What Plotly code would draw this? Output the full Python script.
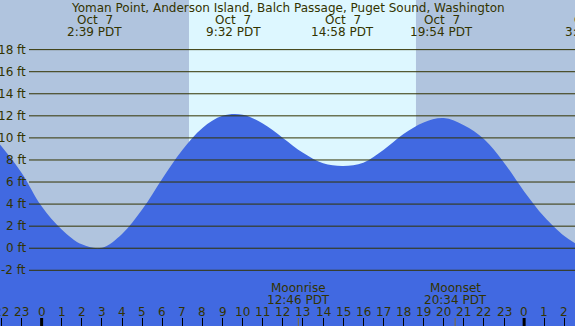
import plotly.graph_objects as go

# ---- data ----
TIDE_HOURS = [-2.07, -1, 0, 1, 2, 3, 4, 5, 6, 7, 8, 9, 10, 11, 12, 13, 14,
              15, 16, 17, 18, 19, 20, 21, 22, 23, 24, 25, 26, 26.53]
TIDE_FEET = [9.4, 6.85, 3.8, 1.7, 0.35, 0.05, 1.3, 3.5, 6.3, 8.9, 10.9, 12.0, 12.1,
             11.3, 10.0, 8.65, 7.7, 7.45, 7.75, 8.9, 10.35, 11.4, 11.8, 11.15, 9.9, 7.75,
             5.15, 2.85, 1.1, 0.45]

EXTREME_HOURS = [2.65, 9.533, 14.967, 19.9, 27.4]
EXTREME_DATES = ["Oct\u00a0\u00a07", "Oct\u00a0\u00a07", "Oct\u00a0\u00a07", "Oct\u00a0\u00a07", "Oct\u00a0\u00a08"]
EXTREME_TIMES = ["2:39 PDT", "9:32 PDT", "14:58 PDT", "19:54 PDT", "3:24 PDT"]

MOON_HOURS = [12.767, 20.567]
MOON_EVENTS = ["Moonrise", "Moonset"]
MOON_TIMES = ["12:46 PDT", "20:34 PDT"]

SUNRISE = 7.33
SUNSET = 18.62

HOUR_TICKS = list(range(-2, 27))
HOUR_LABELS = [str(h % 24) for h in HOUR_TICKS]
MIDNIGHTS = [0, 24]

Y_TICKS = list(range(-2, 19, 2))
Y_LABELS = [f"{v} ft" for v in Y_TICKS]

TITLE = "Yoman Point, Anderson Island, Balch Passage, Puget Sound, Washington"

X_RANGE = [-2.07, 26.53]
Y_RANGE = [-7.05, 22.5]

# ---- style ----
W, H = 575, 326
NIGHT = "#B0C4DE"
DAY = "#DDF7FF"
WATER = "#4169E1"
INK = "#333300"
FONT = "DejaVu Sans"
FS = 12


def py(pix):
    return 1 - pix / H


def hour_to_paper(h):
    return (h - X_RANGE[0]) / (X_RANGE[1] - X_RANGE[0])


fig = go.Figure()
fig.add_trace(go.Scatter(x=X_RANGE, y=[Y_RANGE[0]] * 2, mode="lines",
                         line=dict(width=0, color=WATER), hoverinfo="skip", showlegend=False))
fig.add_trace(go.Scatter(x=TIDE_HOURS, y=TIDE_FEET, mode="lines", fill="tonexty",
                         fillcolor=WATER, line=dict(width=0, color=WATER, shape="spline", smoothing=1),
                         showlegend=False))

shapes = []
shapes.append(dict(type="rect", xref="x", yref="paper", x0=SUNRISE, x1=SUNSET, y0=0, y1=1,
                   fillcolor=DAY, line=dict(width=0), layer="below"))
for v in Y_TICKS:
    shapes.append(dict(type="line", xref="paper", yref="y", x0=29 / W, x1=1, y0=v, y1=v,
                       line=dict(color=INK, width=1), layer="above"))
for m in MIDNIGHTS:
    shapes.append(dict(type="line", xref="x", yref="paper", x0=m, x1=m, y0=0, y1=8 / H,
                       line=dict(color="black", width=3), layer="above"))
for m in MOON_HOURS:
    shapes.append(dict(type="line", xref="x", yref="paper", x0=m, x1=m, y0=0, y1=8 / H,
                       line=dict(color="#806c30", width=1), layer="above"))

ann = []
font = dict(family=FONT, size=FS, color=INK)
ann.append(dict(text=TITLE, xref="paper", yref="paper", x=0.5, y=py(8), xanchor="center",
                yanchor="middle", showarrow=False, font=font))
for hx, d, t in zip(EXTREME_HOURS, EXTREME_DATES, EXTREME_TIMES):
    ann.append(dict(text=d, xref="paper", yref="paper", x=hour_to_paper(hx), y=py(20),
                    xanchor="center", yanchor="middle", showarrow=False, font=font))
    ann.append(dict(text=t, xref="paper", yref="paper", x=hour_to_paper(hx), y=py(32.5),
                    xanchor="center", yanchor="middle", showarrow=False, font=font))
for hx, e, t in zip(MOON_HOURS, MOON_EVENTS, MOON_TIMES):
    ann.append(dict(text=e, xref="x", yref="paper", x=hx, y=py(288), xanchor="center",
                    yanchor="middle", showarrow=False, font=font))
    ann.append(dict(text=t, xref="x", yref="paper", x=hx, y=py(300), xanchor="center",
                    yanchor="middle", showarrow=False, font=font))
for hx, lab in zip(HOUR_TICKS, HOUR_LABELS):
    ann.append(dict(text=lab, xref="x", yref="paper", x=hx, y=py(312), xanchor="center",
                    yanchor="middle", showarrow=False, font=font))
for v, lab in zip(Y_TICKS, Y_LABELS):
    ann.append(dict(text=lab, xref="paper", yref="y", x=27.5 / W, y=v, xanchor="right",
                    yanchor="middle", showarrow=False, font=font))

fig.update_layout(
    width=W, height=H, margin=dict(l=0, r=0, t=0, b=0),
    paper_bgcolor=NIGHT, plot_bgcolor=NIGHT,
    shapes=shapes, annotations=ann, showlegend=False,
    xaxis=dict(range=X_RANGE, showgrid=False, zeroline=False, showline=False,
               tickvals=HOUR_TICKS, ticktext=[""] * len(HOUR_TICKS), ticks="inside",
               ticklen=8, tickwidth=1, tickcolor="black"),
    yaxis=dict(range=Y_RANGE, showgrid=False, zeroline=False, showline=False,
               showticklabels=False, ticks=""),
)
fig.write_html("out.html", config={"displayModeBar": False},
               post_script="document.body.style.margin='0';document.body.style.overflow='hidden';")
